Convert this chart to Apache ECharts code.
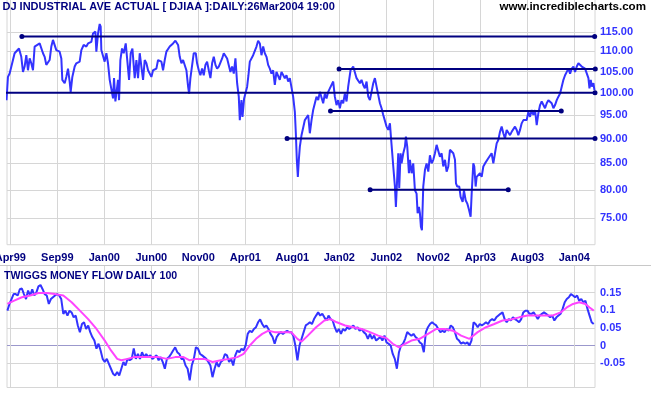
<!DOCTYPE html>
<html><head><meta charset="utf-8">
<script src="https://cdn.jsdelivr.net/npm/echarts@6/dist/echarts.min.js"></script>
<style>html,body{margin:0;padding:0;background:#fff}#c{width:651px;height:395px}</style>
</head><body><div id="c"></div>
<script>
const titleText = 'DJ INDUSTRIAL AVE ACTUAL [ DJIAA ]:DAILY:26Mar2004 19:00';
const siteText = 'www.incrediblecharts.com';
const mfTitle = 'TWIGGS MONEY FLOW DAILY 100';

// x axis: trading-day index, a tick every 100 trading days
const xTickDays = [0,100,200,300,400,500,600,700,800,900,1000,1100,1200];
const xTickLabels = ['Apr99','Sep99','Jan00','Jun00','Nov00','Apr01','Aug01','Jan02','Jun02','Nov02','Apr03','Aug03','Jan04'];
const priceTicks = [75,80,85,90,95,100,105,110,115];
const mfTicks = [-0.05,0,0.05,0.1,0.15];

const priceDays = [-8,-5,-1.4,5.7,9.2,12.8,18.5,23.4,27,30.5,34.1,37.6,41.2,44.7,48.3,51.8,55.4,62.5,66,69.6,73.1,76.6,83.7,87.3,90.8,94.4,97.9,101.5,105,108.6,110.7,115.7,119.2,122.8,126.3,128.5,132,137,140.5,147.6,151.2,156.1,161.8,165.4,168.9,172.5,176,181,183.1,186.7,190.2,192.3,193.7,197.3,200.8,204.4,207.9,211.5,215,218.6,220.7,223.6,225.7,229.2,231.4,234.2,237.7,241.3,245.6,249.1,252.7,256.2,259.8,264.7,268.3,271.8,275.4,278.9,282.5,286,289.6,293.1,296.7,300.2,303.8,310.8,314.4,317.9,321.5,325,328.6,332.1,335.7,339.2,342.8,346.3,351.3,357,360.5,364.1,367.6,371.2,374.7,378.3,380.4,383.2,386.8,390.3,394.6,397.4,401,404.5,408.1,411.6,415.2,418.7,422.3,425.8,429.4,432.9,436.5,440,443.6,447.1,450.7,454.2,457.8,461.3,464.8,468.4,471.9,475.5,479,482.6,486.1,488.3,491.8,494,497.5,501,503.9,506.7,509.6,513.1,516.7,520.2,523.8,527.3,530.9,534.4,538,541.5,545.1,548.6,552.2,555.7,559.2,562.8,566.3,569.9,573.4,577,580.5,584.1,587.6,591.2,594.7,598.3,601.8,605.4,607.5,609.6,611.8,613.9,616,619.6,623.1,626.7,630.2,633.8,637.3,640.9,644.4,648,651.5,655.1,658.6,662.2,665.7,669.3,672.8,676.4,679.9,683.4,687,690.5,694.1,697.6,701.2,704.7,708.3,711.8,715.4,718.9,721.1,723.9,726,729.6,733.1,736.7,740.2,743.8,747.3,750.9,754.4,758,761.5,765.1,768.6,772.2,775.7,779.3,782.8,786.4,789.9,793.5,797,800.6,804.1,807.7,809.8,812.6,814.8,818.3,820.4,823.3,825.4,827.5,830.4,832.5,836.1,839.6,841.7,844.6,848.1,850.2,853.8,857.3,860.9,864.4,866.6,869.4,871.5,873.6,875.8,878.6,882.2,885.7,889.3,892.8,896.4,899.9,903.5,907,910.6,914.1,917.7,921.2,924.8,928.3,931.9,935.4,939,942.5,946.1,948.2,951,955.3,958.1,962.4,965.2,968.8,972.3,975.9,979.4,981.6,985.1,987.2,990.1,992.2,995.8,999.3,1002.9,1006.4,1010,1013.5,1017,1020.6,1024.1,1027.7,1031.2,1034.8,1038.3,1041.9,1045.4,1049,1052.5,1056.1,1059.6,1063.2,1066.7,1070.3,1073.8,1077.4,1080.9,1084.5,1088,1091.6,1095.1,1098.7,1102.2,1105.8,1109.3,1112.9,1116.4,1120,1123.5,1127.1,1130.6,1134.2,1137.7,1141.3,1144.8,1148.4,1151.9,1155.5,1159,1162.6,1166.1,1169.7,1173.2,1176.8,1180.3,1183.9,1187.4,1191,1194.5,1198.1,1201.6,1205.2,1208.7,1212.3,1215.8,1219.4,1222.9,1226.5,1230,1232.2,1235,1237.1,1240.7,1242.8];
const priceValues = [98.3,103.7,104.5,107.8,109.5,109.9,110.7,108.6,104.9,106.2,109.0,105.3,108.2,107.0,105.3,111.2,111.6,112.0,111.8,109.5,108.6,106.6,107.8,111.2,112.9,112.9,110.3,110.3,109.9,108.2,103.0,102.2,103.7,105.7,102.6,100.2,103.7,106.2,107.0,107.4,110.3,111.6,111.2,112.0,112.0,112.4,114.6,115.1,109.9,114.6,117.1,116.4,110.3,109.9,107.4,109.5,107.0,103.0,102.6,98.7,103.4,98.0,98.3,103.0,98.3,107.8,110.7,109.5,112.0,112.4,103.0,109.5,110.7,103.4,107.8,103.4,109.5,106.2,103.0,107.8,107.0,105.3,104.9,103.7,105.3,105.7,107.8,108.2,107.4,105.3,107.8,109.9,110.3,111.2,111.6,112.0,112.7,111.6,108.6,107.0,107.8,107.4,105.3,101.4,99.8,103.4,103.4,109.5,109.5,107.0,105.3,104.1,105.7,104.1,106.6,107.4,105.3,103.4,107.0,108.6,106.6,105.7,106.2,106.6,108.2,109.5,109.0,108.2,107.8,104.9,106.2,104.5,108.2,102.2,99.1,93.9,98.3,94.6,98.7,98.3,101.4,104.1,107.4,107.8,109.0,108.6,111.2,112.7,112.0,109.0,111.2,109.5,108.6,106.6,105.7,104.5,105.3,101.8,104.9,105.3,103.0,104.9,104.9,103.4,104.1,102.6,103.4,103.0,99.1,95.7,91.1,85.7,82.4,85.7,88.3,90.7,91.1,93.9,93.5,95.0,91.1,93.9,96.1,97.6,99.1,98.3,100.2,100.6,97.6,99.8,98.7,100.2,101.0,101.4,102.6,99.1,97.2,98.3,96.5,98.3,97.6,99.8,98.0,101.4,101.4,105.3,105.7,106.2,106.2,103.4,103.0,102.2,103.0,101.8,101.0,102.6,99.1,98.3,100.2,102.2,103.4,101.4,99.5,97.6,96.5,95.0,95.4,92.5,91.8,93.2,90.4,87.0,84.4,80.6,76.9,82.4,87.0,80.3,87.0,85.0,87.0,88.3,90.4,88.3,83.1,85.7,83.1,85.0,79.9,79.3,75.8,76.9,75.8,73.5,72.9,80.6,83.7,85.0,83.4,86.6,85.0,85.7,87.0,88.7,89.0,86.3,87.0,84.4,85.7,83.4,84.4,87.7,88.0,87.0,85.7,81.2,80.6,80.6,78.7,77.8,79.9,78.1,77.5,76.4,75.2,79.3,85.0,84.4,80.6,82.4,82.4,83.1,82.4,84.4,85.0,84.7,86.0,85.7,87.0,85.0,87.0,89.0,89.7,91.4,92.5,91.1,90.0,91.8,92.1,90.7,91.4,91.1,92.5,91.8,90.7,91.8,93.2,93.9,94.3,93.9,95.7,94.6,96.1,95.0,96.1,92.8,95.4,97.2,98.0,97.6,96.5,97.6,98.3,98.3,97.6,96.5,97.2,98.3,99.1,99.8,101.4,103.0,104.1,104.9,105.7,104.5,105.7,106.2,104.9,106.2,107.0,106.6,106.2,106.2,105.7,105.3,103.4,101.0,103.0,101.4,102.2,100.6];

// Twiggs money flow, one reading every mfStepDays trading days from mfStartDay
const mfStartDay = -6.2;
const mfStepDays = 4.408;
const mfValues = [0.099,0.118,0.132,0.146,0.146,0.142,0.160,0.162,0.146,0.132,0.156,0.142,0.160,0.142,0.151,0.168,0.172,0.160,0.146,0.142,0.118,0.132,0.137,0.142,0.146,0.142,0.132,0.090,0.099,0.085,0.099,0.094,0.080,0.085,0.057,0.038,0.061,0.066,0.047,0.057,0.038,0.024,0.014,-0.009,0.005,-0.014,-0.038,-0.047,-0.038,-0.052,-0.066,-0.080,-0.085,-0.075,-0.085,-0.066,-0.047,-0.057,-0.038,-0.042,-0.038,-0.008,-0.038,-0.024,-0.038,-0.019,-0.033,-0.024,-0.033,-0.028,-0.038,-0.033,-0.028,-0.042,-0.033,-0.047,-0.066,-0.038,-0.033,-0.024,-0.014,-0.005,-0.019,-0.024,-0.038,-0.038,-0.057,-0.066,-0.099,-0.057,-0.038,-0.005,-0.009,-0.024,-0.028,-0.033,-0.038,-0.047,-0.057,-0.090,-0.066,-0.047,-0.061,-0.047,-0.042,-0.024,-0.028,-0.047,-0.038,-0.057,-0.028,-0.014,-0.019,-0.009,-0.014,0,0.033,0.042,0.038,0.047,0.052,0.066,0.074,0.061,0.052,0.057,0.047,0.033,0.024,0.005,0.024,0.033,0.038,0.033,0.038,0.042,0.038,0.038,0.028,0,-0.042,0,0.019,0.038,0.057,0.061,0.066,0.061,0.075,0.085,0.094,0.085,0.090,0.080,0.071,0.085,0.075,0.071,0.052,0.038,0.047,0.033,0.047,0.042,0.052,0.047,0.052,0.057,0.047,0.052,0.042,0.047,0.038,0.033,0.019,0.033,0.019,0.028,0.014,0.019,0.024,0.014,0.028,0.009,0.005,0,-0.024,-0.038,-0.066,-0.019,0,0.005,0.019,0.038,0.033,0.028,0.033,0.024,0.019,0.009,0.005,-0.019,0.038,0.052,0.061,0.066,0.061,0.057,0.047,0.038,0.042,0.038,0.047,0.042,0.057,0.052,0.038,0.019,0.014,0.005,0.009,0.005,0.009,0,0.014,0.066,0.061,0.052,0.061,0.057,0.061,0.066,0.061,0.071,0.075,0.071,0.080,0.085,0.090,0.094,0.075,0.066,0.075,0.071,0.080,0.075,0.071,0.066,0.075,0.094,0.099,0.099,0.090,0.090,0.094,0.085,0.075,0.085,0.090,0.094,0.090,0.085,0.080,0.085,0.071,0.080,0.085,0.090,0.104,0.123,0.132,0.137,0.146,0.142,0.137,0.142,0.127,0.132,0.123,0.127,0.104,0.085,0.066,0.061];

// signal line (moving average of money flow)
const maDays = [-6.2,7.1,24.7,42.3,59.9,77.6,95.2,112.8,130.5,148.1,165.7,183.4,201,214.2,227.5,236.3,249.5,262.7,280.3,298,315.6,333.2,350.9,368.5,381.7,395,412.6,430.2,447.9,465.5,483.1,496.3,509.6,522.8,536,549.2,562.5,580.1,597.7,610.9,619.8,633,650.6,668.3,681.5,694.7,712.3,730,747.6,765.2,782.9,800.5,813.7,826.9,840.2,853.4,871,888.7,906.3,923.9,941.6,959.2,976.8,994.4,1012.1,1029.7,1047.3,1065,1082.6,1100.2,1117.9,1135.5,1153.1,1170.8,1184,1197.2,1210.4,1223.6,1232.5,1241.3];
const maValues = [0.118,0.127,0.137,0.142,0.149,0.149,0.146,0.142,0.123,0.099,0.075,0.047,0.014,-0.014,-0.038,-0.042,-0.038,-0.033,-0.033,-0.033,-0.033,-0.038,-0.033,-0.033,-0.042,-0.038,-0.038,-0.047,-0.042,-0.038,-0.033,-0.024,0,0.019,0.033,0.042,0.038,0.038,0.038,0.019,0.011,0.028,0.052,0.071,0.075,0.066,0.057,0.052,0.047,0.038,0.028,0.021,0.005,-0.005,0.005,0.014,0.019,0.033,0.047,0.047,0.042,0.028,0.019,0.038,0.052,0.061,0.071,0.074,0.080,0.085,0.085,0.085,0.085,0.094,0.108,0.118,0.123,0.118,0.108,0.099];

// trend lines
const trendStart = [24.7, 699.6, -23, 681.3, 588.9, 765.6];
const trendEnd   = [1243.3, 1244.6, 1244, 1172.2, 1244, 1059.4];
const trendLevel = [113.8, 105.6, 100, 95.9, 90, 80];
const trendStartDot = [true, true, false, true, true, true];

const FONT = '"Liberation Sans", Arial, sans-serif';
const NAVY = '#000080';
const BLUE = '#3333ff';
const GRID = '#d6d6d6';

const chart = echarts.init(document.getElementById('c'), null, {renderer: 'canvas'});

const noLabel = {show: false};
const series = [];
// upper panel grid lines + price-axis labels
series.push({
  type: 'line', xAxisIndex: 0, yAxisIndex: 0, z: 1, silent: true, showSymbol: false,
  data: [[-7, 100]], lineStyle: {width: 0},
  markLine: {
    z: 1, silent: true, symbol: 'none', animation: false,
    lineStyle: {color: GRID, width: 1, type: 'solid'},
    label: {position: 'end', distance: 5, color: BLUE, fontWeight: 'bold', fontSize: 11, fontFamily: FONT,
      formatter: p => Number(p.value).toFixed(2)},
    emphasis: {disabled: true},
    data: priceTicks.map(v => ({yAxis: v})).concat(xTickDays.map(d => ({xAxis: d, label: noLabel})))
  }
});
series.push({
  type: 'line', xAxisIndex: 0, yAxisIndex: 0, z: 3, showSymbol: false, silent: true,
  data: priceDays.map((d, i) => [d, priceValues[i]]),
  lineStyle: {color: BLUE, width: 2}, itemStyle: {color: BLUE}
});
for (let k = 0; k < trendLevel.length; k++) {
  series.push({
    type: 'line', xAxisIndex: 0, yAxisIndex: 0, z: 4, clip: false, silent: true,
    symbol: 'circle', symbolSize: 5,
    data: [
      trendStartDot[k] ? [trendStart[k], trendLevel[k]] : {value: [trendStart[k], trendLevel[k]], symbol: 'none'},
      [trendEnd[k], trendLevel[k]]
    ],
    lineStyle: {color: NAVY, width: 2}, itemStyle: {color: NAVY}
  });
}
// lower panel grid lines
series.push({
  type: 'line', xAxisIndex: 1, yAxisIndex: 1, z: 1, silent: true, showSymbol: false,
  data: [[-7, 0]], lineStyle: {width: 0},
  markLine: {
    z: 1, silent: true, symbol: 'none', animation: false,
    lineStyle: {color: GRID, width: 1, type: 'solid'},
    label: noLabel, emphasis: {disabled: true},
    data: mfTicks.map(v => (v === 0 ? {yAxis: v, lineStyle: {color: '#9b98cc', width: 1, type: 'solid'}} : {yAxis: v}))
      .concat(xTickDays.map(d => ({xAxis: d})))
  }
});
series.push({
  type: 'line', xAxisIndex: 1, yAxisIndex: 1, z: 3, showSymbol: false, silent: true,
  data: mfValues.map((v, i) => [mfStartDay + i * mfStepDays, v]),
  lineStyle: {color: BLUE, width: 2}
});
series.push({
  type: 'line', xAxisIndex: 1, yAxisIndex: 1, z: 4, showSymbol: false, silent: true,
  data: maDays.map((d, i) => [d, maValues[i]]),
  lineStyle: {color: '#ff44ff', width: 2}
});

const xCommon = {
  type: 'value', min: -7, max: 1244,
  axisLine: {show: false}, axisTick: {show: false},
  splitLine: {show: false}
};

chart.setOption({
  animation: false,
  backgroundColor: '#fff',
  grid: [
    {left: 7, right: 56, top: -1, height: 245.7, show: true, borderColor: GRID, borderWidth: 1, backgroundColor: 'transparent',
      containLabel: false, outerBoundsMode: 'none'},
    {left: 7, right: 56, top: 265.5, height: 122, show: true, borderColor: GRID, borderWidth: 1, backgroundColor: 'transparent',
      containLabel: false, outerBoundsMode: 'none'}
  ],
  xAxis: [
    Object.assign({}, xCommon, {gridIndex: 0,
      axisLabel: {show: true, customValues: xTickDays, margin: 8, color: NAVY, fontWeight: 'bold', fontSize: 11, fontFamily: FONT,
        hideOverlap: false, formatter: v => xTickLabels[xTickDays.indexOf(v)] || ''}}),
    Object.assign({}, xCommon, {gridIndex: 1, axisLabel: {show: false}})
  ],
  yAxis: [
    {type: 'log', logBase: 10, gridIndex: 0, position: 'right', min: 70.51, max: 124.04,
      axisLine: {show: false}, axisTick: {show: false}, axisLabel: {show: false}, splitLine: {show: false}},
    {type: 'value', gridIndex: 1, position: 'right', min: -0.1193, max: 0.2273,
      axisLine: {show: false},
      axisTick: {show: true, length: 4, customValues: mfTicks, lineStyle: {color: GRID}},
      axisLabel: {show: true, customValues: mfTicks, margin: 5, color: BLUE, fontWeight: 'bold', fontSize: 11, fontFamily: FONT,
        formatter: v => (Math.abs(v) < 1e-9 ? '0' : String(v))},
      splitLine: {show: false}}
  ],
  graphic: [
    {type: 'line', silent: true, z: 10, shape: {x1: 0, y1: 265.5, x2: 651, y2: 265.5}, style: {stroke: '#c8c8c8', lineWidth: 1}},
    {type: 'text', silent: true, z: 10, style: {text: titleText, x: 2.5, y: 6.7, align: 'left', verticalAlign: 'middle',
      font: 'bold 11px ' + FONT, fill: NAVY}},
    {type: 'text', silent: true, z: 10, style: {text: siteText, x: 646, y: 7, align: 'right', verticalAlign: 'middle',
      font: 'bold 11.6px ' + FONT, fill: '#000'}},
    {type: 'text', silent: true, z: 10, style: {text: mfTitle, x: 4, y: 276, align: 'left', verticalAlign: 'middle',
      font: 'bold 10.6px ' + FONT, fill: NAVY}}
  ],
  series: series
});
</script>
</body></html>
